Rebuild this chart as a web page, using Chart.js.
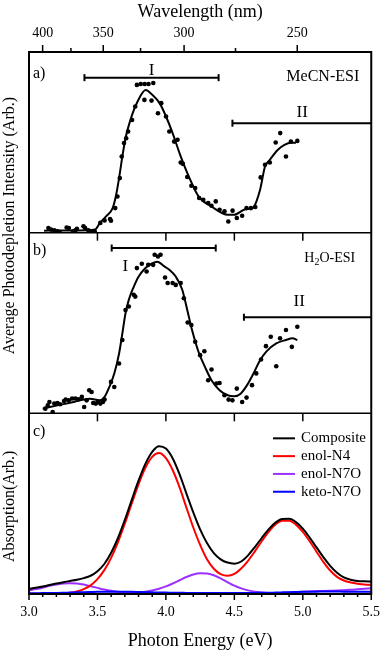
<!DOCTYPE html>
<html>
<head>
<meta charset="utf-8">
<script src="https://cdn.jsdelivr.net/npm/chart.js@4.4.1/dist/chart.umd.min.js"></script>
<style>
  html, body { margin: 0; padding: 0; background: #fff; }
  canvas { display: block; }
</style>
</head>
<body>
<canvas id="chart" width="390" height="652"></canvas>
<script>
// photon energy (eV) <-> wavelength (nm)
const HC = 1239.84;

// axis ticks
const energyTicks = [3.0, 3.5, 4.0, 4.5, 5.0, 5.5];
const wavelengthTicks = [400, 350, 300, 250];
const wavelengthMinor = [375, 325, 275];

// a) MeCN-ESI : measured points + fit
const aDotE = [3.142, 3.161, 3.185, 3.208, 3.225, 3.275, 3.291, 3.322, 3.339, 3.35, 3.398, 3.41, 3.433, 3.457, 3.48,
  3.521, 3.552, 3.592, 3.599, 3.63, 3.646, 3.663, 3.677, 3.694, 3.71, 3.724, 3.753, 3.776,
  3.788, 3.816, 3.845, 3.873, 3.908, 3.843, 3.895, 3.942, 3.966, 4.001, 4.025, 4.06, 4.085, 4.108, 4.124,
  4.156, 4.186, 4.214, 4.243, 4.273, 4.309, 4.333, 4.364, 4.392, 4.428, 4.456, 4.487, 4.518, 4.557,
  4.589, 4.621, 4.653, 4.692, 4.724, 4.759, 4.802, 4.835, 4.877, 4.913, 4.96];
const aDotV = [0.026, 0.017, 0.013, 0.007, 0.0, 0.029, 0.026, 0.007, 0.013, 0.022, 0.035, 0.026, 0.013, 0.002, 0.007,
  0.054, 0.068, 0.076, 0.066, 0.136, 0.2, 0.302, 0.422, 0.496, 0.523, 0.56, 0.624, 0.698,
  0.818, 0.823, 0.823, 0.823, 0.828, 0.735, 0.731, 0.661, 0.717, 0.643, 0.56, 0.504, 0.514, 0.388, 0.381,
  0.308, 0.26, 0.247, 0.192, 0.182, 0.164, 0.149, 0.173, 0.127, 0.118, 0.062, 0.122, 0.081, 0.094,
  0.136, 0.136, 0.142, 0.306, 0.376, 0.388, 0.499, 0.551, 0.422, 0.504, 0.508];
const aFitE = [3.11, 3.22, 3.362, 3.483, 3.518, 3.563, 3.611, 3.634, 3.658, 3.682, 3.705, 3.753, 3.788, 3.852,
  3.902, 3.954, 4.001, 4.049, 4.108, 4.167, 4.238, 4.333, 4.451, 4.499, 4.57, 4.62, 4.64, 4.688, 4.724, 4.759,
  4.818, 4.866, 4.913, 4.95];
const aFitV = [0.011, 0.012, 0.012, 0.017, 0.054, 0.09, 0.136, 0.2, 0.302, 0.422, 0.523, 0.652, 0.718, 0.79,
  0.762, 0.717, 0.643, 0.551, 0.422, 0.311, 0.201, 0.145, 0.099, 0.099, 0.127, 0.133, 0.14, 0.238, 0.366, 0.403,
  0.459, 0.486, 0.498, 0.498];
const aBandI = [3.405, 4.385];
const aBandII = [4.486, 5.5];

// b) H2O-ESI : measured points + fit
const bDotE = [3.119, 3.137, 3.149, 3.173, 3.185, 3.208, 3.227, 3.256, 3.268, 3.291, 3.315, 3.339, 3.362, 3.386,
  3.403, 3.421, 3.44, 3.457, 3.469, 3.488, 3.504, 3.521, 3.54, 3.552,
  3.599, 3.623, 3.658, 3.682, 3.705, 3.729, 3.765, 3.776, 3.788, 3.824, 3.859, 3.871, 3.907, 3.918, 3.942, 3.961,
  3.994, 4.013, 4.049, 4.072, 4.108, 4.131, 4.159, 4.186, 4.214, 4.25, 4.281, 4.309, 4.333, 4.369, 4.392,
  4.428, 4.458, 4.486, 4.518, 4.557, 4.589, 4.629, 4.66, 4.695, 4.731, 4.766, 4.806, 4.834, 4.877, 4.92, 4.96];
const bDotV = [0.026, 0.044, 0.063, 0.007, 0.054, 0.057, 0.05, 0.068, 0.076, 0.072, 0.082, 0.082, 0.078, 0.091,
  0.035, 0.072, 0.128, 0.118, 0.057, 0.054, 0.063, 0.054, 0.063, 0.076,
  0.174, 0.146, 0.276, 0.406, 0.572, 0.591, 0.656, 0.646, 0.804, 0.828, 0.785, 0.822, 0.822, 0.878, 0.868, 0.878,
  0.752, 0.721, 0.721, 0.711, 0.721, 0.637, 0.503, 0.489, 0.396, 0.322, 0.344, 0.183, 0.243, 0.165, 0.168,
  0.1, 0.076, 0.072, 0.137, 0.063, 0.087, 0.156, 0.221, 0.298, 0.372, 0.424, 0.261, 0.415, 0.461, 0.368, 0.479];
const bFitE = [3.10, 3.208, 3.327, 3.445, 3.516, 3.552, 3.587, 3.623, 3.658, 3.682, 3.705, 3.729, 3.765, 3.80,
  3.847, 3.895, 3.938, 3.989, 4.025, 4.072, 4.12, 4.156, 4.191, 4.238, 4.286, 4.333, 4.392, 4.451, 4.499,
  4.546, 4.593, 4.64, 4.688, 4.735, 4.806, 4.877, 4.925, 4.96];
const bFitV = [0.026, 0.044, 0.063, 0.081, 0.072, 0.091, 0.146, 0.22, 0.331, 0.443, 0.554, 0.628, 0.70, 0.756,
  0.802, 0.828, 0.839, 0.813, 0.795, 0.757, 0.683, 0.572, 0.461, 0.341, 0.256, 0.183, 0.128, 0.10, 0.094,
  0.109, 0.156, 0.221, 0.294, 0.343, 0.387, 0.406, 0.415, 0.406];
const bBandI = [3.604, 4.364];
const bBandII = [4.57, 5.5];

// c) computed absorption
const cE = [3.00, 3.05, 3.10, 3.15, 3.20, 3.25, 3.30, 3.35, 3.40, 3.45, 3.50, 3.55, 3.60, 3.65, 3.70, 3.75, 3.80,
  3.85, 3.90, 3.95, 4.00, 4.05, 4.10, 4.15, 4.20, 4.25, 4.30, 4.35, 4.40, 4.45, 4.50, 4.55, 4.60, 4.65, 4.70,
  4.75, 4.80, 4.85, 4.90, 4.95, 5.00, 5.05, 5.10, 5.15, 5.20, 5.25, 5.30, 5.35, 5.40, 5.45, 5.50];
const cComposite = [0.028, 0.034, 0.041, 0.05, 0.058, 0.065, 0.072, 0.079, 0.088, 0.101, 0.126, 0.166, 0.228,
  0.31, 0.41, 0.52, 0.627, 0.72, 0.787, 0.818, 0.805, 0.75, 0.662, 0.556, 0.452, 0.358, 0.282, 0.226, 0.192,
  0.174, 0.168, 0.18, 0.214, 0.26, 0.31, 0.358, 0.395, 0.415, 0.416, 0.398, 0.362, 0.312, 0.258, 0.204, 0.156,
  0.118, 0.092, 0.079, 0.072, 0.07, 0.069];
const cEnolN4 = [0.001, 0.001, 0.001, 0.001, 0.002, 0.004, 0.007, 0.014, 0.027, 0.048, 0.082, 0.132, 0.2, 0.287,
  0.39, 0.5, 0.607, 0.698, 0.759, 0.78, 0.752, 0.685, 0.59, 0.478, 0.368, 0.272, 0.192, 0.14, 0.11, 0.101,
  0.111, 0.141, 0.184, 0.236, 0.292, 0.344, 0.385, 0.405, 0.406, 0.384, 0.344, 0.292, 0.234, 0.178, 0.13,
  0.095, 0.075, 0.064, 0.057, 0.052, 0.05];
const cEnolN7O = [0.02, 0.027, 0.035, 0.045, 0.053, 0.058, 0.06, 0.058, 0.052, 0.043, 0.034, 0.025, 0.018, 0.013,
  0.01, 0.009, 0.01, 0.013, 0.02, 0.029, 0.042, 0.058, 0.076, 0.094, 0.108, 0.115, 0.113, 0.104, 0.087, 0.066,
  0.046, 0.031, 0.02, 0.012, 0.008, 0.006, 0.005, 0.006, 0.008, 0.01, 0.012, 0.014, 0.016, 0.017, 0.018, 0.019,
  0.021, 0.023, 0.026, 0.029, 0.032];
const cKetoN7O = [0.004, 0.004, 0.005, 0.005, 0.006, 0.007, 0.008, 0.009, 0.01, 0.011, 0.012, 0.012, 0.013, 0.013,
  0.012, 0.012, 0.011, 0.01, 0.009, 0.008, 0.008, 0.007, 0.007, 0.006, 0.006, 0.006, 0.005, 0.005, 0.005, 0.005,
  0.005, 0.005, 0.006, 0.006, 0.007, 0.007, 0.008, 0.009, 0.01, 0.011, 0.012, 0.013, 0.013, 0.014, 0.014, 0.014,
  0.013, 0.013, 0.012, 0.012, 0.012];
const cLabels = ['Composite', 'enol-N4', 'enol-N7O', 'keto-N7O'];
const cColors = ['#000000', '#ff0000', '#9b30ff', '#0000ff'];

const SERIF = '"Liberation Serif", "Times New Roman", serif';

function pts(xs, ys) { return xs.map((x, i) => ({ x: x, y: ys[i] })); }

function dots(xs, ys, axis) {
  return { data: pts(xs, ys), yAxisID: axis, showLine: false, pointRadius: 2.3,
           pointBackgroundColor: '#000', pointBorderWidth: 0, borderColor: '#000' };
}
function curve(xs, ys, axis, color) {
  return { data: pts(xs, ys), yAxisID: axis, borderColor: color, borderWidth: 2,
           pointRadius: 0, cubicInterpolationMode: 'monotone', fill: false };
}

// the three panels share one x scale; last defined sits on top
const hiddenY = () => ({
  type: 'linear', position: 'left', stack: 'panels', stackWeight: 1, min: 0, max: 1,
  ticks: { display: false }, grid: { display: false, drawTicks: false }, border: { display: false },
  afterFit: s => { s.width = 0; }
});

// frame, ticks, labels, bands and legend
const decor = {
  id: 'decor',
  afterDraw(chart) {
    const ctx = chart.ctx;
    const x = chart.scales.x, ya = chart.scales.ya, yb = chart.scales.yb, yc = chart.scales.yc;
    const L = chart.chartArea.left, R = chart.chartArea.right;
    const top = chart.chartArea.top, bottom = chart.chartArea.bottom;
    ctx.save();
    ctx.strokeStyle = '#000';
    ctx.fillStyle = '#000';
    ctx.lineCap = 'butt';

    function vline(px, y0, y1, w) {
      ctx.lineWidth = w; ctx.beginPath(); ctx.moveTo(px, y0); ctx.lineTo(px, y1); ctx.stroke();
    }
    // top wavelength ticks
    wavelengthTicks.forEach(w => vline(x.getPixelForValue(HC / w), top, top - 7, 1.5));
    wavelengthMinor.forEach(w => vline(x.getPixelForValue(HC / w), top, top - 4, 1.5));
    // bottom energy ticks
    for (let i = 0; i <= 25; i++) {
      const e = 3 + i * 0.1;
      const major = i % 5 === 0;
      vline(x.getPixelForValue(e), bottom, bottom + (major ? 6 : 3), 1.5);
    }
    // ticks under panel separators
    energyTicks.slice(1, -1).forEach(e => {
      const px = x.getPixelForValue(e);
      vline(px, ya.bottom, ya.bottom + 8, 1.5);
      vline(px, yb.bottom, yb.bottom + 8, 1.5);
    });

    // frames
    ctx.lineWidth = 2;
    ctx.strokeRect(L, top, R - L, bottom - top);
    ctx.lineWidth = 1.5;
    [ya.bottom, yb.bottom].forEach(y => {
      ctx.beginPath(); ctx.moveTo(L, y); ctx.lineTo(R, y); ctx.stroke();
    });

    // panel letters
    ctx.textBaseline = 'middle';
    ctx.textAlign = 'left';
    ctx.font = '16px ' + SERIF;
    ctx.fillText('a)', L + 4, ya.getPixelForValue(0.88));
    ctx.fillText('b)', L + 4, yb.getPixelForValue(0.90));
    ctx.fillText('c)', L + 4, yc.getPixelForValue(0.90));

    // sample labels
    ctx.font = '16px ' + SERIF;
    ctx.textAlign = 'right';
    ctx.fillText('MeCN-ESI', R - 12, ya.getPixelForValue(0.86));
    const hy = yb.getPixelForValue(0.86);
    const hx = R - 16;
    ctx.textAlign = 'left';
    ctx.font = '14px ' + SERIF;
    const w1 = ctx.measureText('O-ESI').width;
    ctx.fillText('O-ESI', hx - w1, hy);
    ctx.font = '10px ' + SERIF;
    const w2 = ctx.measureText('2').width;
    ctx.fillText('2', hx - w1 - w2, hy + 4);
    ctx.font = '14px ' + SERIF;
    const w3 = ctx.measureText('H').width;
    ctx.fillText('H', hx - w1 - w2 - w3, hy);

    // bands I / II
    function band(ys, range, v, capRight) {
      const x0 = x.getPixelForValue(range[0]), x1 = x.getPixelForValue(range[1]);
      const y = ys.getPixelForValue(v);
      ctx.lineWidth = 2;
      ctx.beginPath(); ctx.moveTo(x0, y); ctx.lineTo(x1, y); ctx.stroke();
      vline(x0, y - 3.5, y + 3.5, 2);
      if (capRight) vline(x1, y - 3.5, y + 3.5, 2);
    }
    band(ya, aBandI, 0.858, true);
    band(ya, aBandII, 0.606, false);
    band(yb, bBandI, 0.915, true);
    band(yb, bBandII, 0.532, false);
    ctx.font = '17px ' + SERIF;
    ctx.textAlign = 'center';
    ctx.fillText('I', x.getPixelForValue(3.895), ya.getPixelForValue(0.90));
    ctx.fillText('II', x.getPixelForValue(4.996), ya.getPixelForValue(0.663));
    ctx.fillText('I', x.getPixelForValue(3.703), yb.getPixelForValue(0.813));
    ctx.fillText('II', x.getPixelForValue(4.974), yb.getPixelForValue(0.618));

    // legend for panel c
    ctx.font = '15px ' + SERIF;
    ctx.textAlign = 'left';
    cLabels.forEach((lab, i) => {
      const y = yc.top + 25 + i * 17.8;
      ctx.strokeStyle = cColors[i];
      ctx.lineWidth = 2;
      ctx.beginPath(); ctx.moveTo(273, y); ctx.lineTo(295, y); ctx.stroke();
      ctx.fillStyle = '#000';
      ctx.fillText(lab, 301, y);
    });

    // y titles
    ctx.font = '16px ' + SERIF;
    ctx.textAlign = 'center';
    ctx.save();
    ctx.translate(10, (ya.top + yb.bottom) / 2 - 7);
    ctx.rotate(-Math.PI / 2);
    ctx.fillText('Average Photodepletion Intensity (Arb.)', 0, 0);
    ctx.restore();
    ctx.save();
    ctx.translate(10, yc.top + 93);
    ctx.rotate(-Math.PI / 2);
    ctx.fillText('Absorption(Arb.)', 0, 0);
    ctx.restore();

    ctx.restore();
  }
};

const datasets = [
  dots(aDotE, aDotV, 'ya'),
  curve(aFitE, aFitV, 'ya', '#000'),
  dots(bDotE, bDotV, 'yb'),
  curve(bFitE, bFitV, 'yb', '#000'),
  curve(cE, cKetoN7O, 'yc', cColors[3]),
  curve(cE, cComposite, 'yc', cColors[0]),
  curve(cE, cEnolN4, 'yc', cColors[1]),
  curve(cE, cEnolN7O, 'yc', cColors[2])
];

new Chart(document.getElementById('chart'), {
  type: 'line',
  data: { datasets: datasets },
  options: {
    responsive: false,
    devicePixelRatio: 1,
    animation: false,
    layout: { padding: { left: 29, right: 9, top: 0, bottom: 0 } },
    plugins: { legend: { display: false }, tooltip: { enabled: false } },
    scales: {
      x: {
        type: 'linear', position: 'bottom', min: 3, max: 5.5,
        afterBuildTicks: s => { s.ticks = energyTicks.map(v => ({ value: v })); },
        ticks: { callback: v => v.toFixed(1), color: '#000', font: { family: SERIF, size: 14 },
                 padding: 10, maxRotation: 0, autoSkip: false },
        grid: { display: false, drawTicks: false }, border: { display: false },
        title: { display: true, text: 'Photon Energy (eV)', color: '#000',
                 font: { family: SERIF, size: 18 }, padding: { top: 0, bottom: 0 } },
        afterFit: s => { s.height = 58; }
      },
      x2: {
        type: 'linear', position: 'top', min: 3, max: 5.5,
        afterBuildTicks: s => { s.ticks = wavelengthTicks.map(w => ({ value: HC / w })); },
        ticks: { callback: (v, i) => String(wavelengthTicks[i]), color: '#000',
                 font: { family: SERIF, size: 14 }, padding: 10, maxRotation: 0, autoSkip: false },
        grid: { display: false, drawTicks: false }, border: { display: false },
        title: { display: true, text: 'Wavelength (nm)', color: '#000',
                 font: { family: SERIF, size: 18 }, padding: { top: 1, bottom: 0 } },
        afterFit: s => { s.height = 52; }
      },
      yc: hiddenY(),
      yb: hiddenY(),
      ya: hiddenY()
    }
  },
  plugins: [decor]
});
</script>
</body>
</html>
